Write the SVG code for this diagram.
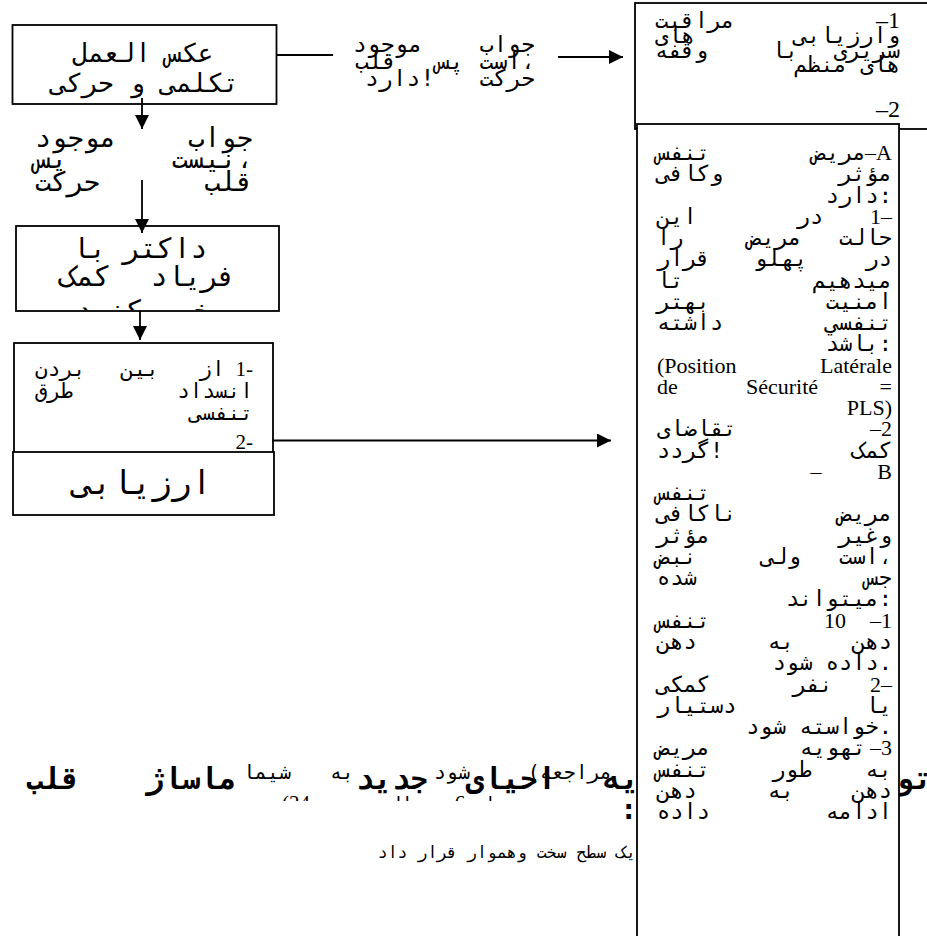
<svg xmlns="http://www.w3.org/2000/svg" width="927" height="936" viewBox="0 0 927 936">
<defs>
<style>
.b{fill:#fff;stroke:#000;stroke-width:1.8}
.bn{fill:none;stroke:#000;stroke-width:1.8}
.ln{stroke:#000;stroke-width:1.8;fill:none}
.t{font-family:"Liberation Serif",serif;fill:#000}
.a{font-family:"DejaVu Sans Mono",monospace;fill:#000}
.bd{font-weight:bold}
.r{text-anchor:end}
.l{text-anchor:start}
.m{text-anchor:middle}
.k{font-size:22px}
.n{font-size:22px}
</style>
<marker id="ah" viewBox="0 0 10 10" refX="10" refY="5" markerWidth="16" markerHeight="14" markerUnits="userSpaceOnUse" orient="auto"><path d="M0,0 L10,5 L0,10 z" fill="#000"/></marker>
<clipPath id="cA"><rect x="13" y="26" width="262" height="74"/></clipPath>
<clipPath id="cB"><rect x="17" y="227" width="261" height="83"/></clipPath>
<clipPath id="cR1"><rect x="636" y="4" width="291" height="117"/></clipPath>
<clipPath id="cL2"><rect x="0" y="789" width="640" height="12"/></clipPath>
</defs>
<rect width="927" height="936" fill="#fff"/>

<g id="bottom-text">
<text class="a r bd" x="80" y="789" font-size="30">قلب</text>
<text class="a r bd" x="236" y="789" font-size="30">ماساژ</text>
<text class="a r bd" x="428" y="789" font-size="30">جدید</text>
<text class="a r bd" x="556" y="789" font-size="30">احیای</text>
<text class="a r bd" x="639" y="789" font-size="30">یه</text>
<text class="a r bd" x="932" y="789" font-size="30">تو</text>
<text class="a r" x="612" y="779" font-size="20">(مراجعه</text>
<text class="a r" x="470" y="779" font-size="20">شود</text>
<text class="a r" x="354" y="779" font-size="20">به</text>
<text class="a r" x="291" y="779" font-size="20">شیما</text>
<g clip-path="url(#cL2)">
<text class="t l" x="282" y="810" font-size="21">(24</text>
<text class="a r" x="413" y="810" font-size="19">الی</text>
<text class="t m" x="460" y="810" font-size="21">6</text>
<text class="a r" x="507" y="810" font-size="19">تا</text>
</g>
<text class="a r bd" x="637" y="819" font-size="28">:</text>
<text class="a r" x="636" y="858" font-size="16.5">یک سطح سخت وهموار قرار داد</text>
</g>

<g id="n-reflex">
<rect class="b" x="12.5" y="25" width="264" height="79"/>
<g clip-path="url(#cA)">
<text class="a m" x="143" y="62" font-size="26">عکس العمل</text>
<text class="a m" x="145" y="92" font-size="26">تکلمی و حرکی</text>
</g>
</g>

<g id="n-no-response">
<text class="a r" x="253" y="147" font-size="27">جواب</text>
<text class="a l" x="35" y="147" font-size="27">موجود</text>
<text class="a r" x="253" y="168" font-size="27">نیست،</text>
<text class="a l" x="35" y="168" font-size="27">پس</text>
<text class="a r" x="253" y="191" font-size="27">قلب</text>
<text class="a l" x="35" y="191" font-size="27">حرکت</text>
</g>

<g id="n-response">
<text class="a r" x="535" y="52" font-size="23">جواب</text>
<text class="a l" x="353" y="52" font-size="23">موجود</text>
<text class="a r" x="535" y="69" font-size="23">است،</text>
<text class="a m" x="450" y="69" font-size="23">پس</text>
<text class="a l" x="355" y="69" font-size="23">قلب</text>
<text class="a r" x="535" y="86" font-size="23">حرکت</text>
<text class="a l" x="365" y="86" font-size="23">دارد!</text>
</g>

<g id="n-doctor">
<rect class="b" x="16" y="226" width="263" height="85"/>
<g clip-path="url(#cB)">
<text class="a m" x="140" y="258" font-size="28">داکتر با</text>
<text class="a r" x="235" y="286" font-size="28">فریاد</text>
<text class="a l" x="60" y="286" font-size="28">کمک</text>
<text class="a m" x="143" y="320" font-size="28">خبر کنید</text>
</g>
</g>

<g id="n-airway">
<rect class="b" x="14" y="343" width="259" height="120"/>
<text class="t r" x="253" y="376" font-size="21">1-</text>
<text class="a m" x="212" y="376" font-size="21">از</text>
<text class="a m" x="140" y="376" font-size="21">بین</text>
<text class="a l" x="35" y="376" font-size="21">بردن</text>
<text class="a r" x="253" y="398" font-size="21">انسداد</text>
<text class="a l" x="35" y="398" font-size="21">طرق</text>
<text class="a r" x="253" y="420" font-size="21">تنفسی</text>
<text class="t r" x="253" y="449" font-size="21">2-</text>
</g>

<g id="n-assess">
<rect class="b" x="13" y="452" width="261" height="63"/>
<text class="a m" x="142" y="494" font-size="33">ارزیابی</text>
</g>

<g id="n-monitor">
<rect class="bn" x="635" y="3" width="300" height="126"/>
<g clip-path="url(#cR1)" font-size="22">
<text class="t r" x="900" y="28" font-size="24">–1</text>
<text class="a l" x="655" y="28">مراقبت</text>
<text class="a r" x="900" y="43">وارزیابی</text>
<text class="a l" x="655" y="43">های</text>
<text class="a r" x="900" y="58">سریری</text>
<text class="a m" x="785" y="58">با</text>
<text class="a l" x="655" y="58">وقفه</text>
<text class="a r" x="900" y="72">های منظم</text>
<text class="t r" x="900" y="117" font-size="24">–2</text>
<text class="a m" x="785" y="132">در</text>
<text class="a l" x="655" y="132">صورت</text>
</g>
</g>

<g id="n-breathing">
<rect class="b" x="637" y="124" width="262" height="830"/>
<text class="t n r" x="892" y="160">–A</text>
<text class="a k r" x="866" y="160">مریض</text>
<text class="a k l" x="657" y="160">تنفس</text>
<text class="a k r" x="892" y="181">مؤثر</text>
<text class="a k l" x="657" y="181">وکافی</text>
<text class="a k r" x="892" y="203">دارد:</text>
<text class="t n r" x="892" y="224">1–</text>
<text class="a k m" x="810" y="224">در</text>
<text class="a k l" x="657" y="224">این</text>
<text class="a k r" x="892" y="245">حالت</text>
<text class="a k m" x="775" y="245">مریض</text>
<text class="a k l" x="657" y="245">را</text>
<text class="a k r" x="892" y="266">در</text>
<text class="a k m" x="781" y="266">پهلو</text>
<text class="a k l" x="657" y="266">قرار</text>
<text class="a k r" x="892" y="288">میدهیم</text>
<text class="a k l" x="657" y="288">تا</text>
<text class="a k r" x="892" y="309">امنیت</text>
<text class="a k l" x="657" y="309">بهتر</text>
<text class="a k r" x="892" y="330">تنفسي</text>
<text class="a k l" x="657" y="330">داشته</text>
<text class="a k r" x="892" y="351">باشد:</text>
<text class="t n l" x="657" y="373">(Position</text>
<text class="t n r" x="892" y="373">Latérale</text>
<text class="t n l" x="657" y="394">de</text>
<text class="t n m" x="782" y="394">Sécurité</text>
<text class="t n r" x="892" y="394">=</text>
<text class="t n r" x="892" y="415">PLS)</text>
<text class="t n r" x="892" y="436">–2</text>
<text class="a k l" x="657" y="436">تقاضای</text>
<text class="a k r" x="892" y="458">کمک</text>
<text class="a k l" x="657" y="458">گردد!</text>
<text class="t n r" x="892" y="479">B</text>
<text class="t n m" x="816" y="479">–</text>
<text class="a k l" x="657" y="500">تنفس</text>
<text class="a k r" x="892" y="521">مریض</text>
<text class="a k l" x="657" y="521">ناکافی</text>
<text class="a k r" x="892" y="543">وغیر</text>
<text class="a k l" x="657" y="543">مؤثر</text>
<text class="a k r" x="892" y="564">است،</text>
<text class="a k m" x="781" y="564">ولی</text>
<text class="a k l" x="657" y="564">نبض</text>
<text class="a k r" x="892" y="585">جس</text>
<text class="a k l" x="657" y="585">شده</text>
<text class="a k r" x="892" y="606">میتواند:</text>
<text class="t n r" x="892" y="628">–1</text>
<text class="t n m" x="835" y="628">10</text>
<text class="a k l" x="657" y="628">تنفس</text>
<text class="a k r" x="892" y="649">دهن</text>
<text class="a k m" x="781" y="649">به</text>
<text class="a k l" x="657" y="649">دهن</text>
<text class="a k r" x="892" y="670">داده شود.</text>
<text class="t n r" x="892" y="692">2–</text>
<text class="a k m" x="813" y="692">نفر</text>
<text class="a k l" x="657" y="692">کمکی</text>
<text class="a k r" x="892" y="713">یا</text>
<text class="a k l" x="657" y="713">دستیار</text>
<text class="a k r" x="892" y="734">خواسته شود.</text>
<text class="t n r" x="892" y="755">–3</text>
<text class="a k r" x="866" y="755">تهویه</text>
<text class="a k l" x="657" y="755">مریض</text>
<text class="a k r" x="892" y="777">به</text>
<text class="a k m" x="792" y="777">طور</text>
<text class="a k l" x="657" y="777">تنفس</text>
<text class="a k r" x="892" y="798">دهن</text>
<text class="a k m" x="781" y="798">به</text>
<text class="a k l" x="657" y="798">دهن</text>
<text class="a k r" x="892" y="819">ادامه</text>
<text class="a k l" x="657" y="819">داده</text>
</g>

<g id="connectors">
<line class="ln" x1="276" y1="55" x2="333" y2="55"/>
<line class="ln" x1="558" y1="57" x2="623" y2="57" marker-end="url(#ah)"/>
<line class="ln" x1="142" y1="98" x2="142" y2="129" marker-end="url(#ah)"/>
<line class="ln" x1="142" y1="180" x2="142" y2="233" marker-end="url(#ah)"/>
<line class="ln" x1="140" y1="311" x2="140" y2="340" marker-end="url(#ah)"/>
<line class="ln" x1="272" y1="440.5" x2="611" y2="440.5" marker-end="url(#ah)"/>
</g>
</svg>
